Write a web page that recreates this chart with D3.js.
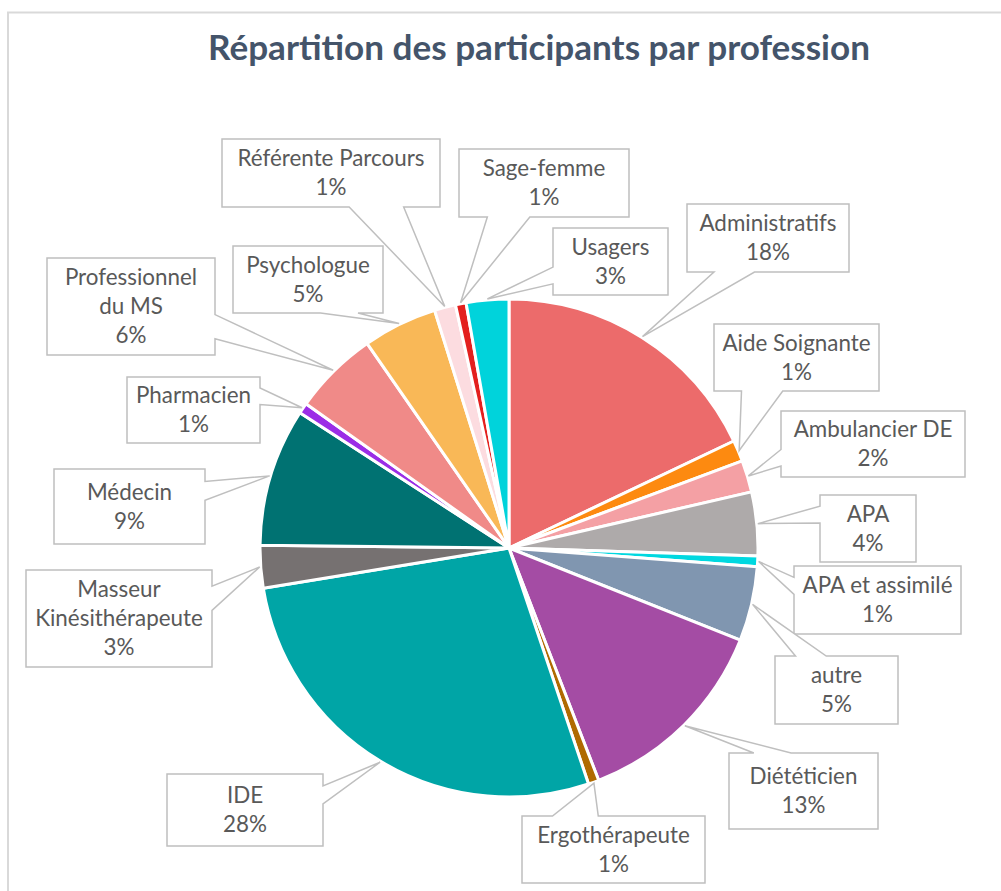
<!DOCTYPE html>
<html>
<head>
<meta charset="utf-8">
<script src="https://cdn.jsdelivr.net/npm/d3@7"></script>
<style>
  html, body { margin: 0; padding: 0; background: #fff; }
  svg { display: block; }
</style>
</head>
<body>
<svg id="chart" width="1001" height="891"></svg>
<script>
// ---------- DATA ----------
const categories = [
  "Administratifs", "Aide Soignante", "Ambulancier DE", "APA", "APA et assimilé",
  "autre", "Diététicien", "Ergothérapeute", "IDE", "Masseur Kinésithérapeute",
  "Médecin", "Pharmacien", "Professionnel du MS", "Psychologue",
  "Référente Parcours", "Sage-femme", "Usagers"
];
const counts = [26, 2, 3, 6, 1, 7, 19, 1, 40, 4, 13, 1, 8, 7, 2, 1, 4];
const sliceColors = [
  "#EC6B6B", "#FD8A10", "#F4A0A4", "#AEAAAA", "#00D8E0",
  "#8096B0", "#A44CA4", "#B06A00", "#00A5A6", "#767171",
  "#007272", "#9B2DE6", "#F08A88", "#F9B857",
  "#FCDCE0", "#E3201E", "#00D3DB"
];
const titleText = "Répartition des participants par profession";

// ---------- LAYOUT (callout boxes: x, y, width, height) ----------
const labelBoxes = [
  [687, 204, 162, 68], [714, 324, 165, 67], [781, 411, 184, 66], [820, 495, 96, 67],
  [794, 566, 167, 68], [775, 656, 123, 68], [729, 753, 149, 76], [522, 816, 183, 67],
  [167, 774, 156, 72], [26, 570, 186, 97], [54, 469, 151, 75], [127, 377, 133, 66],
  [47, 258, 168, 97], [233, 246, 150, 67], [222, 139, 218, 68], [459, 149, 170, 68],
  [553, 228, 115, 67]
];

const W = 1001, H = 891;
const cx = 509, cy = 548, R = 249;
const FONT = "Lato, 'Noto Sans', sans-serif";
const svg = d3.select("#chart");

// chart area border
svg.append("rect")
  .attr("x", 8).attr("y", 12.5).attr("width", W + 10).attr("height", H + 10)
  .attr("fill", "none").attr("stroke", "#D9D9D9").attr("stroke-width", 2);

// measurement helper
function measure(text, size, weight) {
  const t = svg.append("text").attr("font-family", FONT).attr("font-size", size)
    .attr("font-weight", weight || "normal").text(text);
  const w = t.node().getComputedTextLength();
  t.remove();
  return w;
}

// title (fit to reference width)
const titleSize = 32 * 662 / measure(titleText, 32, "bold");
svg.append("text")
  .attr("x", 539).attr("y", 60)
  .attr("text-anchor", "middle")
  .attr("font-family", FONT).attr("font-weight", "bold")
  .attr("font-size", titleSize)
  .attr("fill", "#44546A")
  .text(titleText);

// pie
const total = d3.sum(counts);
const data = categories.map((c, i) => ({ name: c, value: counts[i], color: sliceColors[i], box: labelBoxes[i] }));
const pie = d3.pie().value(d => d.value).sort(null).startAngle(0).endAngle(2 * Math.PI);
const arcs = pie(data);
const arc = d3.arc().innerRadius(0).outerRadius(R);

const g = svg.append("g").attr("transform", `translate(${cx},${cy})`);
g.selectAll("path.slice").data(arcs).join("path")
  .attr("class", "slice")
  .attr("d", arc)
  .attr("fill", d => d.data.color)
  .attr("stroke", "#fff").attr("stroke-width", 3).attr("stroke-linejoin", "round");

// callouts (OOXML wedgeRectCallout geometry)
const labelSize = 18.67 * 187 / measure("Référente Parcours", 18.67);
const lineH = 29;

function calloutPath(box, tip) {
  const [l, t, w, h] = box;
  const r = l + w, b = t + h;
  const hc = l + w / 2, vc = t + h / 2;
  const dxPos = tip[0] - hc, dyPos = tip[1] - vc;
  const xg1 = dxPos > 0 ? 7 : 2, xg2 = dxPos > 0 ? 10 : 5;
  const yg1 = dyPos > 0 ? 7 : 2, yg2 = dyPos > 0 ? 10 : 5;
  const xa = l + w * xg1 / 12, xb = l + w * xg2 / 12;
  const ya = t + h * yg1 / 12, yb = t + h * yg2 / 12;
  const vertical = Math.abs(dyPos) * w > Math.abs(dxPos) * h;
  const p = d3.path();
  p.moveTo(l, t);
  if (vertical && dyPos < 0) { p.lineTo(xa, t); p.lineTo(tip[0], tip[1]); p.lineTo(xb, t); }
  p.lineTo(r, t);
  if (!vertical && dxPos > 0) { p.lineTo(r, ya); p.lineTo(tip[0], tip[1]); p.lineTo(r, yb); }
  p.lineTo(r, b);
  if (vertical && dyPos > 0) { p.lineTo(xb, b); p.lineTo(tip[0], tip[1]); p.lineTo(xa, b); }
  p.lineTo(l, b);
  if (!vertical && dxPos < 0) { p.lineTo(l, yb); p.lineTo(tip[0], tip[1]); p.lineTo(l, ya); }
  p.closePath();
  return p.toString();
}

function wrap(text, maxW) {
  const words = text.split(" ");
  const lines = [];
  let cur = "";
  words.forEach(wd => {
    const test = cur ? cur + " " + wd : wd;
    if (cur && measure(test, labelSize) > maxW) { lines.push(cur); cur = wd; }
    else cur = test;
  });
  if (cur) lines.push(cur);
  return lines;
}

const tipArc = d3.arc().innerRadius(R + 1).outerRadius(R + 1);
const lab = svg.append("g");
arcs.forEach(a => {
  const box = a.data.box;
  const c = tipArc.centroid(a);
  const tip = [cx + c[0], cy + c[1]];
  lab.append("path")
    .attr("d", calloutPath(box, tip))
    .attr("fill", "#fff")
    .attr("stroke", "#BFBFBF").attr("stroke-width", 1.5).attr("stroke-linejoin", "miter");
  const pct = Math.round(a.data.value / total * 100) + "%";
  const lines = wrap(a.data.name, box[2] - 16).concat([pct]);
  const midY = box[1] + box[3] / 2;
  const y0 = midY - (lines.length - 1) * lineH / 2;
  const tx = lab.append("text")
    .attr("font-family", FONT).attr("font-size", labelSize)
    .attr("fill", "#595959").attr("text-anchor", "middle");
  lines.forEach((ln, i) => {
    tx.append("tspan").attr("x", box[0] + box[2] / 2)
      .attr("y", y0 + i * lineH).attr("dy", "0.35em").text(ln);
  });
});
</script>
</body>
</html>
